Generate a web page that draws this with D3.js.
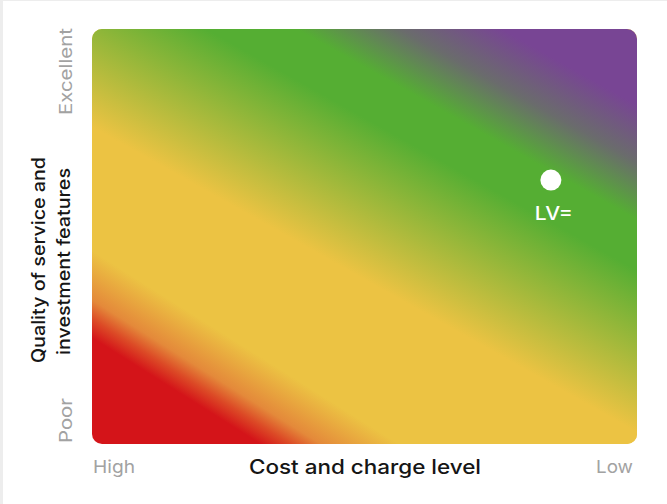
<!DOCTYPE html>
<html>
<head>
<meta charset="utf-8">
<script src="https://cdn.jsdelivr.net/npm/d3@7"></script>
<style>
  html, body { margin: 0; padding: 0; background: #ffffff; }
  svg { display: block; }
</style>
</head>
<body>
<script>
// ---- data ----
const xEnds = ["High", "Low"];            // cost and charge level (left → right)
const yEnds = ["Poor", "Excellent"];      // quality (bottom → top)
const xTitle = "Cost and charge level";
const yTitle = ["Quality of service and", "investment features"];
const pointNames = ["LV="];
const pointX = [8.42];                     // 0 = High cost, 10 = Low cost
const pointY = [6.36];                     // 0 = Poor, 10 = Excellent
// lower band (red → yellow)
const lowOffsets = [0, 0.14, 0.165, 0.19, 0.255, 1];
const lowColors  = ["#d41419", "#d41419", "#dc4a26", "#e4893a", "#ecc343", "#ecc343"];
const lowOpacity = [1, 1, 1, 1, 1, 1];
// upper band (yellow → green → purple)
const upOffsets = [0, 0.3, 0.35, 0.44, 0.665, 0.735, 0.815, 0.895, 1];
const upColors  = ["#ecc343", "#ecc343", "#ecc343", "#ecc343", "#55ae33", "#55ae33", "#6a6c6c", "#784594", "#784594"];
const upOpacity = [0, 0, 1, 1, 1, 1, 1, 1, 1];

const W = 667, H = 504;
const m = { left: 92, right: 30, top: 29, bottom: 60 };
const pw = W - m.left - m.right, ph = H - m.top - m.bottom;

const svg = d3.select("body").append("svg").attr("width", W).attr("height", H);

// light frame at top/left edge
svg.append("rect").attr("x", 0).attr("y", 0).attr("width", W).attr("height", 1).attr("fill", "#ededed");
svg.append("rect").attr("x", 0).attr("y", 0).attr("width", 3).attr("height", H).attr("fill", "#ededed");

const x = d3.scaleLinear().domain([0, 10]).range([m.left, m.left + pw]);
const y = d3.scaleLinear().domain([0, 10]).range([m.top + ph, m.top]);

const defs = svg.append("defs");
function makeGrad(id, slope, offsets, colors, opac) {
  const n = Math.hypot(slope, 1);
  const d = [slope / n, -1 / n];
  const len = (x(10) - x(0)) * d[0] + (y(0) - y(10)) * (-d[1]);
  const g = defs.append("linearGradient").attr("id", id)
    .attr("gradientUnits", "userSpaceOnUse")
    .attr("x1", x(0)).attr("y1", y(0))
    .attr("x2", x(0) + d[0] * len).attr("y2", y(0) + d[1] * len);
  g.selectAll("stop").data(offsets).join("stop")
    .attr("offset", v => v)
    .attr("stop-color", (v, i) => colors[i])
    .attr("stop-opacity", (v, i) => opac[i]);
}
makeGrad("low", 0.63, lowOffsets, lowColors, lowOpacity);
makeGrad("up", 0.56, upOffsets, upColors, upOpacity);

["low", "up"].forEach(id => {
  svg.append("rect")
    .attr("x", x(0)).attr("y", y(10))
    .attr("width", x(10) - x(0)).attr("height", y(0) - y(10))
    .attr("rx", 10).attr("ry", 10)
    .attr("fill", `url(#${id})`);
});

const font = "Inter, 'Open Sans', sans-serif";
const grey = "#a2a2a2";

// x end labels
svg.append("text").attr("x", 93).attr("y", 473)
  .attr("font-family", font).attr("font-size", 17.5).attr("fill", grey)
  .attr("textLength", 42).attr("lengthAdjust", "spacingAndGlyphs").text(xEnds[0]);
svg.append("text").attr("x", 596).attr("y", 473)
  .attr("font-family", font).attr("font-size", 17.5).attr("fill", grey)
  .attr("textLength", 37).attr("lengthAdjust", "spacingAndGlyphs").text(xEnds[1]);

// x title
svg.append("text").attr("x", 249).attr("y", 474)
  .attr("font-family", font).attr("font-size", 20).attr("font-weight", 500).attr("fill", "#151515")
  .attr("textLength", 232).attr("lengthAdjust", "spacingAndGlyphs").text(xTitle);

// y end labels (rotated)
svg.append("text").attr("transform", `translate(72,443) rotate(-90)`)
  .attr("font-family", font).attr("font-size", 17.5).attr("fill", grey)
  .attr("textLength", 45).attr("lengthAdjust", "spacingAndGlyphs").text(yEnds[0]);
svg.append("text").attr("transform", `translate(72,115) rotate(-90)`)
  .attr("font-family", font).attr("font-size", 17.5).attr("fill", grey)
  .attr("textLength", 87).attr("lengthAdjust", "spacingAndGlyphs").text(yEnds[1]);

// y title
svg.append("text").attr("transform", `translate(45,363) rotate(-90)`)
  .attr("font-family", font).attr("font-size", 18).attr("font-weight", 500).attr("fill", "#151515")
  .attr("textLength", 206).attr("lengthAdjust", "spacingAndGlyphs").text(yTitle[0]);
svg.append("text").attr("transform", `translate(70,355) rotate(-90)`)
  .attr("font-family", font).attr("font-size", 18).attr("font-weight", 500).attr("fill", "#151515")
  .attr("textLength", 187).attr("lengthAdjust", "spacingAndGlyphs").text(yTitle[1]);

// point(s)
const g = svg.append("g");
g.selectAll("circle").data(pointX).join("circle")
  .attr("cx", d => x(d)).attr("cy", (d, i) => y(pointY[i]))
  .attr("r", 10.5).attr("fill", "#ffffff");
g.selectAll("text").data(pointX).join("text")
  .attr("x", d => x(d) - 16).attr("y", (d, i) => y(pointY[i]) + 40)
  .attr("font-family", font).attr("font-size", 19).attr("font-weight", 500).attr("fill", "#ffffff")
  .attr("textLength", 38).attr("lengthAdjust", "spacingAndGlyphs")
  .text((d, i) => pointNames[i]);
</script>
</body>
</html>
